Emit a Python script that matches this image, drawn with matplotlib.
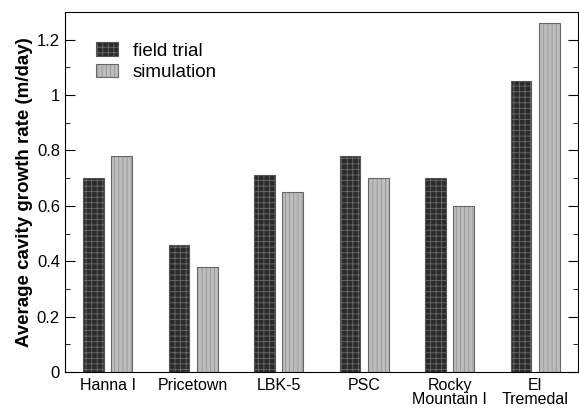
import numpy as np
import matplotlib.pyplot as plt
from matplotlib.ticker import MultipleLocator

plt.rcParams['font.family'] = ['Liberation Sans', 'DejaVu Sans']
plt.rcParams['hatch.linewidth'] = 0.6

# Data:
sites = ['Hanna I', 'Pricetown', 'LBK-5', 'PSC', 'Rocky\nMountain I', 'El\nTremedal']
field_trial = [0.70, 0.46, 0.71, 0.78, 0.70, 1.05]
simulation = [0.78, 0.38, 0.65, 0.70, 0.60, 1.26]

x = np.arange(len(sites))
w = 0.245
off = 0.165

fig = plt.figure(figsize=(5.79, 4.08), dpi=100)
ax = fig.add_axes([0.112, 0.088, 0.886, 0.883])

b1 = ax.bar(x - off, field_trial, w, color='#2b2b2b', edgecolor='#555555',
            hatch='+++', linewidth=0.8, label='field trial')
b2 = ax.bar(x + off, simulation, w, color='#bdbdbd', edgecolor='#666666',
            hatch='||||', linewidth=0.8, label='simulation')
for p in b1:
    p._hatch_color = (0.42, 0.42, 0.42, 1)
for p in b2:
    p._hatch_color = (0.58, 0.58, 0.58, 1)

ax.set_xlim(-0.5, 5.5)
ax.set_ylim(0, 1.3)
ax.set_xticks(x)
ax.set_xticklabels(sites, fontsize=11.5, linespacing=0.95)
ax.yaxis.set_minor_locator(MultipleLocator(0.1))
ax.set_yticks([0, 0.2, 0.4, 0.6, 0.8, 1.0, 1.2])
ax.set_yticklabels(['0', '0.2', '0.4', '0.6', '0.8', '1', '1.2'], fontsize=12)
ax.tick_params(axis='y', which='both', direction='in', left=True, right=True)
ax.tick_params(axis='y', which='major', length=7.5)
ax.tick_params(axis='y', which='minor', length=3.8)
ax.tick_params(axis='x', length=0, pad=4)
ax.set_ylabel('Average cavity growth rate (m/day)', fontsize=13.5,
              fontweight='bold', labelpad=3)

ax.legend(loc='upper left', bbox_to_anchor=(0.06, 0.915), frameon=False,
          fontsize=13.5, handlelength=1.17, handleheight=0.75, labelspacing=0.2,
          handletextpad=0.8, borderpad=0, borderaxespad=0)

plt.savefig('out.png', dpi=100)
